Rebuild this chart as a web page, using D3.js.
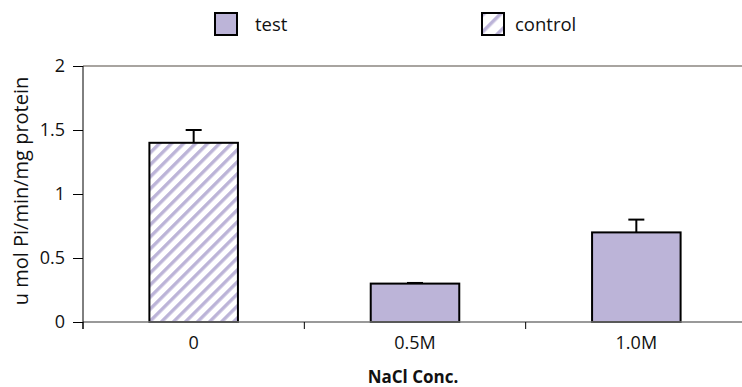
<!DOCTYPE html>
<html>
<head>
<meta charset="utf-8">
<script src="https://cdn.jsdelivr.net/npm/d3@7"></script>
<style>
  html, body { margin: 0; padding: 0; background: #fff; }
  svg { display: block; font-family: "Open Sans", "Noto Sans", sans-serif; }
</style>
</head>
<body>
<svg id="chart" width="742" height="387"></svg>
<script>
// NaCl concentrations on the x axis
const categories = ["0", "0.5M", "1.0M"];
// Specific activity (u mol Pi/min/mg protein)
const values = [1.4, 0.3, 0.7];
// Upper error bar ends
const errorTops = [1.5, 0.305, 0.8];
// Which bar is the control
const groups = ["control", "test", "test"];
const yTicks = [0, 0.5, 1, 1.5, 2];
const legendItems = ["test", "control"];

const svg = d3.select("#chart");
const margin = { left: 83, right: 0, top: 66, bottom: 65 };
const W = 742, H = 387;

const x = d3.scaleBand().domain(categories)
  .range([margin.left, W + 5]).paddingInner(0.6).paddingOuter(0.3);
const xOuter = d3.scaleBand().domain(categories).range([margin.left, W + 5]);
const y = d3.scaleLinear().domain([0, 2]).range([H - margin.bottom, margin.top]);

const fill = "#bcb4d8";

// Diagonal hatch for the control bar
const defs = svg.append("defs");
const pat = defs.append("pattern")
  .attr("id", "hatch").attr("patternUnits", "userSpaceOnUse")
  .attr("width", 8.5).attr("height", 8.5)
  .attr("patternTransform", "rotate(45)");
pat.append("rect").attr("width", 8.5).attr("height", 8.5).attr("fill", "#fff");
pat.append("rect").attr("x", 0).attr("width", 3.4).attr("height", 8.5).attr("fill", fill);

// Sparser hatch for the legend swatch
const pat2 = defs.append("pattern")
  .attr("id", "hatchSmall").attr("patternUnits", "userSpaceOnUse")
  .attr("width", 12).attr("height", 12)
  .attr("patternTransform", "translate(2,0) rotate(45)");
pat2.append("rect").attr("width", 12).attr("height", 12).attr("fill", "#fff");
pat2.append("rect").attr("width", 3.5).attr("height", 12).attr("fill", fill);

// Top reference line at y = 2
svg.append("line")
  .attr("x1", margin.left).attr("x2", W)
  .attr("y1", y(2)).attr("y2", y(2))
  .attr("stroke", "#a8a4a0").attr("stroke-width", 2);

// Bars
svg.append("g").selectAll("rect").data(categories).join("rect")
  .attr("x", d => x(d))
  .attr("y", (d, i) => y(values[i]))
  .attr("width", x.bandwidth())
  .attr("height", (d, i) => y(0) - y(values[i]))
  .attr("fill", (d, i) => groups[i] === "control" ? "url(#hatch)" : fill)
  .attr("stroke", "#000").attr("stroke-width", 2);

// Error bars (upper only)
const eb = svg.append("g").attr("stroke", "#000").attr("stroke-width", 2);
categories.forEach((c, i) => {
  const cx = x(c) + x.bandwidth() / 2;
  eb.append("line").attr("x1", cx).attr("x2", cx)
    .attr("y1", y(values[i])).attr("y2", y(errorTops[i]));
  eb.append("line").attr("x1", cx - 8).attr("x2", cx + 8)
    .attr("y1", y(errorTops[i])).attr("y2", y(errorTops[i]));
});

// X baseline
svg.append("line")
  .attr("x1", margin.left).attr("x2", W)
  .attr("y1", y(0)).attr("y2", y(0))
  .attr("stroke", "#777").attr("stroke-width", 1.5);

// X category separators
const xb = svg.append("g").attr("stroke", "#000").attr("stroke-width", 1);
categories.forEach(c => {
  const bx = xOuter(c);
  xb.append("line").attr("x1", bx).attr("x2", bx)
    .attr("y1", y(0)).attr("y2", y(0) + 7);
});

// Y axis
const yAxis = d3.axisLeft(y).tickValues(yTicks).tickSize(10).tickPadding(8)
  .tickFormat(d3.format("~g"));
const ya = svg.append("g").attr("transform", `translate(${margin.left},0)`).call(yAxis);
ya.select(".domain").remove();
ya.selectAll(".tick line").attr("stroke", "#000");
ya.selectAll(".tick text").attr("font-size", 18).attr("fill", "#111")
  .attr("font-family", "'Open Sans', sans-serif");
svg.append("line")
  .attr("x1", margin.left).attr("x2", margin.left)
  .attr("y1", y(2)).attr("y2", y(0) + 7)
  .attr("stroke", "#000").attr("stroke-width", 1);

// X tick labels
svg.append("g").selectAll("text").data(categories).join("text")
  .attr("x", d => x(d) + x.bandwidth() / 2)
  .attr("y", y(0) + 27)
  .attr("text-anchor", "middle").attr("font-size", 18).attr("fill", "#111")
  .text(d => d);

// Axis titles
svg.append("text")
  .attr("transform", `translate(28,${(y(0) + y(2)) / 2 - 3}) rotate(-90)`)
  .attr("text-anchor", "middle").attr("font-size", 20).attr("fill", "#111")
  .text("u mol Pi/min/mg protein");

svg.append("text")
  .attr("x", 413).attr("y", 383)
  .attr("text-anchor", "middle").attr("font-size", 17).attr("font-weight", "bold")
  .attr("fill", "#111")
  .text("NaCl Conc.");

// Legend
const legendX = [214, 481];
const lg = svg.append("g").selectAll("g").data(legendItems).join("g")
  .attr("transform", (d, i) => `translate(${legendX[i]},12)`);
lg.append("rect")
  .attr("x", 1).attr("y", 1)
  .attr("width", 22).attr("height", 22)
  .attr("fill", d => d === "control" ? "url(#hatchSmall)" : fill)
  .attr("stroke", "#000").attr("stroke-width", 2);
lg.append("text")
  .attr("x", (d, i) => i === 0 ? 41 : 34).attr("y", 19)
  .attr("font-size", 18.5).attr("fill", "#111")
  .text(d => d);
</script>
</body>
</html>
